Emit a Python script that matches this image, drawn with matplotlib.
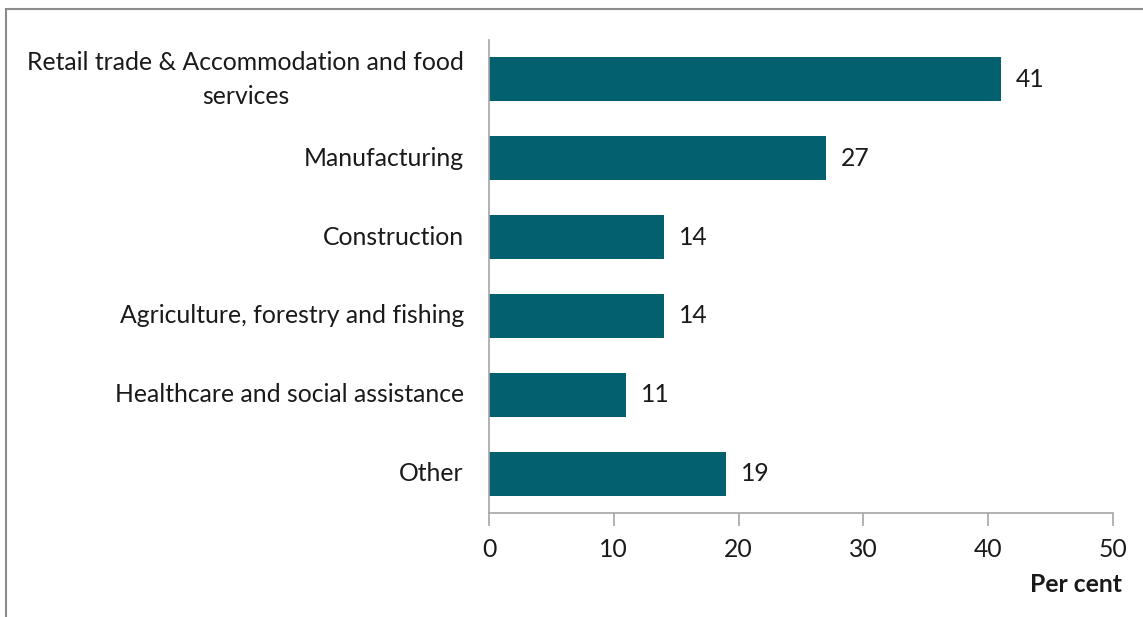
import matplotlib.pyplot as plt
from matplotlib.patches import Rectangle

plt.rcParams['font.family'] = ['Lato', 'DejaVu Sans']

categories = ['Retail trade & Accommodation and food\nservices', 'Manufacturing', 'Construction',
              'Agriculture, forestry and fishing', 'Healthcare and social assistance', 'Other']
values = [41, 27, 14, 14, 11, 19]
xticks = [0, 10, 20, 30, 40, 50]

bar_color = '#03606f'
axis_color = '#a6a6a6'
fs = 17.8

fig = plt.figure(figsize=(11.43, 6.17), dpi=100)
ax = fig.add_axes([489 / 1143, 1 - 513 / 617, (1113 - 489) / 1143, (513 - 40) / 617])

# outer frame, partly cropped like the original
fig.patches.append(Rectangle((6 / 1143, -0.1), 1.2, 1 - 9 / 617 + 0.1, transform=fig.transFigure,
                             fill=False, edgecolor='#8c8c8c', linewidth=1.5))

y = list(range(len(categories)))
bars = ax.barh(y, values, height=0.56, color=bar_color)
for b, v in zip(bars, values):
    ax.text(b.get_width() + 1.2, b.get_y() + b.get_height() / 2, str(v),
            va='center', ha='left', fontsize=fs, color='#1a1a1a')

ax.set_yticks(y)
ax.set_yticklabels(categories, fontsize=fs, color='#1a1a1a', multialignment='center',
                   linespacing=1.6)
for lab in ax.get_yticklabels():
    lab.set_va('center')
ax.set_ylim(len(categories) - 0.5, -0.5)
ax.set_xlim(0, 50)
ax.set_xticks(xticks)
ax.set_xticklabels([str(t) for t in xticks], fontsize=fs, color='#1a1a1a')
ax.tick_params(axis='y', length=0, pad=18)
ax.tick_params(axis='x', length=9, width=1.2, color=axis_color, pad=9)

for s in ['top', 'right']:
    ax.spines[s].set_visible(False)
ax.spines['left'].set_color(axis_color)
ax.spines['bottom'].set_color(axis_color)
ax.spines['left'].set_linewidth(1.2)
ax.spines['bottom'].set_linewidth(1.2)

fig.text(1122 / 1143, 1 - 585 / 617, 'Per cent', ha='right', va='center',
         fontsize=fs, fontweight='bold', color='#1a1a1a')

fig.savefig('out.png', dpi=100)
